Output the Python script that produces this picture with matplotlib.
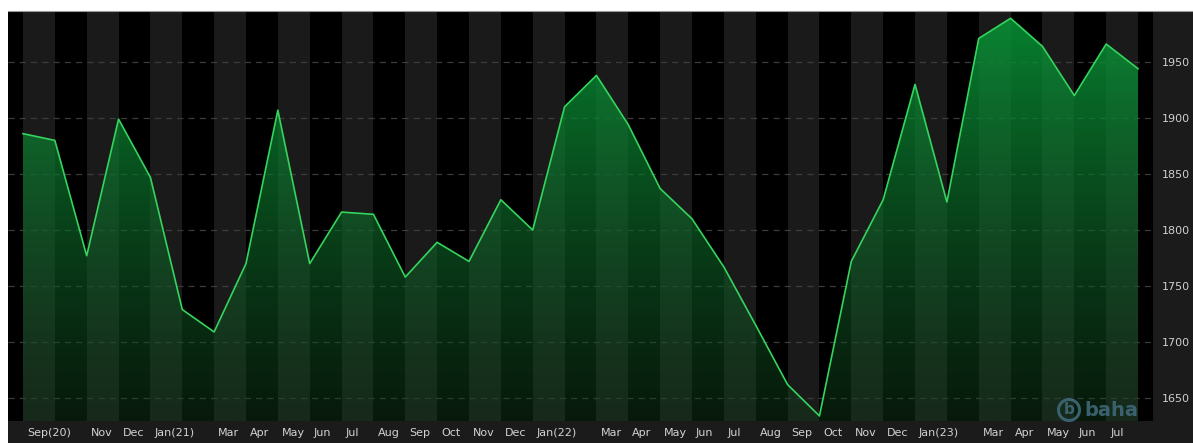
import numpy as np
import matplotlib
matplotlib.use("Agg")
import matplotlib.pyplot as plt
from matplotlib.patches import Rectangle, Circle
from matplotlib.lines import Line2D
import matplotlib.transforms as mtransforms

# =====================================================
# DATA (monthly, Sep 2020 - Aug 2023)
# =====================================================

month_labels = [
    "Sep(20)", "", "Nov", "Dec", "Jan(21)", "", "Mar", "Apr", "May", "Jun", "Jul", "Aug",
    "Sep", "Oct", "Nov", "Dec", "Jan(22)", "", "Mar", "Apr", "May", "Jun", "Jul", "Aug",
    "Sep", "Oct", "Nov", "Dec", "Jan(23)", "", "Mar", "Apr", "May", "Jun", "Jul", "",
]

values = [
    1886, 1880, 1777, 1899, 1847, 1729, 1709, 1770, 1907, 1770, 1816, 1814,
    1758, 1789, 1772, 1827, 1800, 1910, 1938, 1894, 1837, 1810, 1767, 1715,
    1662, 1634, 1772, 1827, 1930, 1825, 1971, 1989, 1964, 1920, 1966, 1944,
]

y_ticks = [1650, 1700, 1750, 1800, 1850, 1900, 1950]

# =====================================================
# FIGURE LAYOUT
# =====================================================

W, H = 1193, 443
fig = plt.figure(figsize=(W / 100, H / 100), dpi=100)
fig.patch.set_facecolor("white")

# dark panel behind plot, right scale and bottom labels
fig.patches.append(Rectangle((8 / W, 0), 1 - 8 / W, (H - 11) / H,
                             transform=fig.transFigure, facecolor="#1b1b1b",
                             edgecolor="none", zorder=-5))
fig.lines.append(Line2D([8 / W, 1], [(H - 11) / H] * 2, transform=fig.transFigure,
                        color="#9a9a9a", linewidth=0.8, zorder=10))

ax = fig.add_axes([8 / W, 22 / H, (1153 - 8) / W, (421 - 11) / H])
ax.set_facecolor("black")
for s in ax.spines.values():
    s.set_visible(False)

x = np.arange(len(values))
ax.set_xlim(-0.47, len(values) - 1 + 0.47)
ax.set_ylim(1629.5, 1995.5)

# alternating month stripes
for i in range(0, len(values) - 1, 2):
    ax.axvspan(x[i], x[i + 1], color="#1a1a1a", zorder=0.1, linewidth=0)

# dashed grid
ax.set_axisbelow(True)
ax.set_yticks(y_ticks)
ax.yaxis.grid(True, color="#3c3c3c", linestyle=(0, (5, 4)), linewidth=0.9)

# =====================================================
# GRADIENT AREA + LINE
# =====================================================

poly = ax.fill_between(x, values, 1600, color="none", linewidth=0)
n = 256
t = np.linspace(0, 1, n)[:, None]  # 0 = top, 1 = bottom
top_rgb = np.array([8, 150, 55]) / 255
bot_rgb = np.array([18, 62, 28]) / 255
grad = np.zeros((n, 1, 4))
grad[:, :, :3] = (top_rgb * (1 - t[..., None]) + bot_rgb * t[..., None])
grad[:, :, 3] = 0.88 * (1 - t) + 0.42 * t
ylo, yhi = ax.get_ylim()
im = ax.imshow(grad, aspect="auto", extent=[x[0], x[-1], ylo, yhi],
               origin="upper", zorder=1, interpolation="bilinear")
im.set_clip_path(poly.get_paths()[0], transform=ax.transData)

ax.plot(x, values, color="#35d45c", linewidth=1.2, zorder=3)

# =====================================================
# AXES LABELS
# =====================================================

ax.yaxis.tick_right()
ax.tick_params(axis="y", length=0, pad=6, labelsize=8, labelcolor="#cfcfcf")

shown = [i for i, m in enumerate(month_labels) if m]
ax.set_xticks([x[i] for i in shown])
ax.set_xticklabels([month_labels[i] for i in shown])
ax.tick_params(axis="x", length=0, pad=5, labelsize=8, labelcolor="#d2d2d2")
offset = mtransforms.ScaledTranslation(4 / 100, 0, fig.dpi_scale_trans)
for lbl in ax.get_xticklabels():
    lbl.set_horizontalalignment("left")
    lbl.set_transform(lbl.get_transform() + offset)

# baha logo
logo_color = "#3f6878"
circ = Circle((1069, H - 410), 10.5, transform=mtransforms.IdentityTransform(),
              facecolor="none", edgecolor=logo_color, linewidth=2.2, zorder=5, alpha=0.9)
fig.patches.append(circ)
fig.text(1069 / W, (H - 410) / H, "b", color=logo_color, fontsize=11, fontweight="bold",
         ha="center", va="center", alpha=0.9)
fig.text(1084 / W, (H - 410) / H, "baha", color=logo_color, fontsize=14, fontweight="bold",
         ha="left", va="center", alpha=0.9)

fig.savefig("out.png", dpi=100, facecolor=fig.get_facecolor())
